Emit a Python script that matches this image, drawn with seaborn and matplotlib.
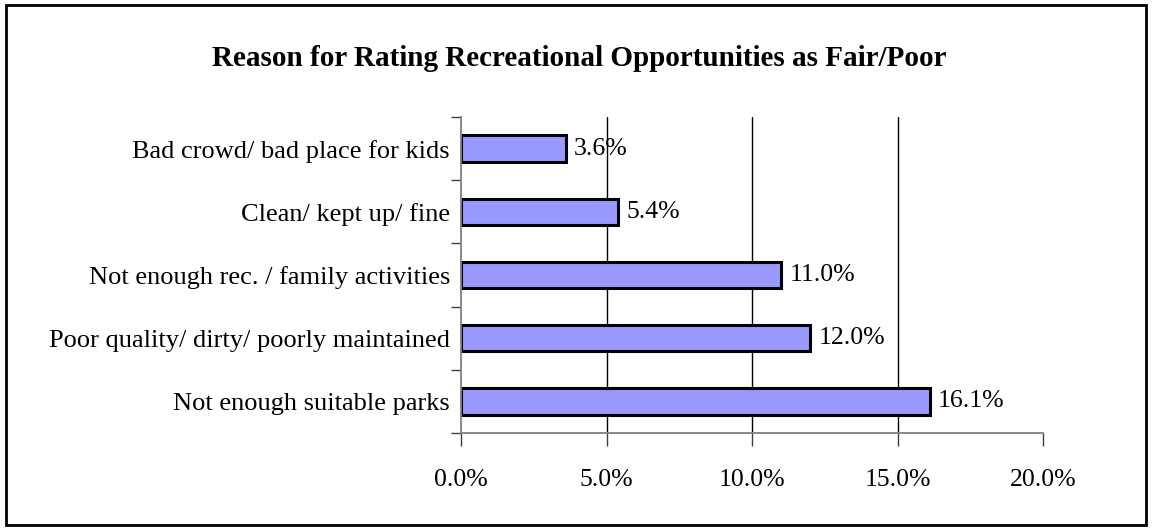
import matplotlib
matplotlib.use("Agg")
import matplotlib.pyplot as plt
import seaborn as sns
import pandas as pd
from matplotlib.patches import Rectangle
from matplotlib.ticker import FuncFormatter, MultipleLocator, FixedLocator

reasons = [
    "Bad crowd/ bad place for kids",
    "Clean/ kept up/ fine",
    "Not enough rec. / family activities",
    "Poor quality/ dirty/ poorly maintained",
    "Not enough suitable parks",
]
shares = [3.6, 5.4, 11.0, 12.0, 16.1]
title = "Reason for Rating Recreational Opportunities as Fair/Poor"

df = pd.DataFrame({"reason": reasons, "share": shares})

sns.set_style("white")
plt.rcParams["font.family"] = ["Liberation Serif", "DejaVu Serif"]
plt.rcParams["text.color"] = "black"
plt.rcParams["xtick.color"] = "black"
plt.rcParams["ytick.color"] = "black"

fig = plt.figure(figsize=(11.52, 5.29), dpi=100)
ax = fig.add_axes([461 / 1152, 1 - 433 / 529, (1043 - 461) / 1152, (433 - 117) / 529])

sns.barplot(data=df, x="share", y="reason", orient="h", color="#9999FF",
            saturation=1, width=0.42, edgecolor="black", linewidth=2.2, ax=ax)

ax.set_xlim(0, 20)
ax.set_ylim(len(reasons) - 0.5, -0.5)
ax.xaxis.set_major_locator(MultipleLocator(5))
ax.xaxis.set_major_formatter(FuncFormatter(lambda v, p: f"{v:.1f}%"))
ax.set_xlabel("")
ax.set_ylabel("")

# vertical gridlines at the interior major ticks
for v in (5, 10, 15):
    ax.axvline(v, color="black", linewidth=1.0, zorder=0)

for side in ("top", "right"):
    ax.spines[side].set_visible(False)
for side in ("left", "bottom"):
    ax.spines[side].set_visible(True)
    ax.spines[side].set_color("#808080")
    ax.spines[side].set_linewidth(1.3)

# category ticks sit between the bars
ax.yaxis.set_major_locator(FixedLocator(range(len(reasons))))
ax.set_yticklabels(reasons)
ax.yaxis.set_minor_locator(FixedLocator([i - 0.5 for i in range(len(reasons) + 1)]))
ax.tick_params(axis="y", which="major", length=0, pad=8, labelsize=19)
ax.tick_params(axis="y", which="minor", length=7, width=1.0, color="#404040", direction="out", left=True)
ax.tick_params(axis="x", which="major", length=9, width=1.0, color="#404040", direction="out",
               bottom=True, pad=17, labelsize=18.5)

for i, v in enumerate(shares):
    ax.annotate(f"{v:.1f}%", xy=(v, i), xytext=(6, 0), textcoords="offset points",
                va="center", ha="left", fontsize=18.5)

fig.text(0.503, 1 - 58 / 529, title, ha="center", va="center",
         fontsize=21, fontweight="bold")

fig.patches.append(Rectangle((6 / 1152, 4 / 529), 1 - 12 / 1152, 1 - 9 / 529,
                             transform=fig.transFigure, fill=False,
                             edgecolor="black", linewidth=2))

fig.savefig("out.png", dpi=100, facecolor="white")
